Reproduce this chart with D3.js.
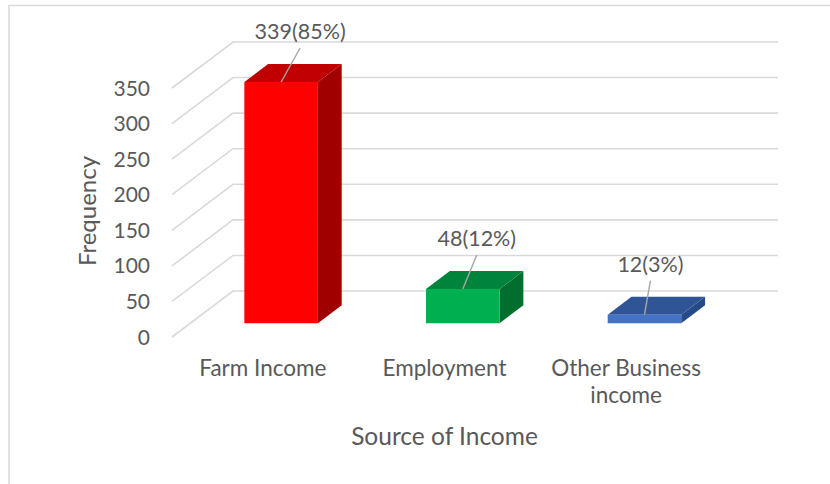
<!DOCTYPE html>
<html>
<head>
<meta charset="utf-8">
<script src="https://cdn.jsdelivr.net/npm/d3@7"></script>
<style>
  html, body { margin: 0; padding: 0; background: #fff; }
  svg { display: block; }
  text { font-family: Lato, "Open Sans", sans-serif; fill: #595959; }
</style>
</head>
<body>
<svg id="chart" width="830" height="484"></svg>
<script>
// Source of income of respondents
const categories = ["Farm Income", "Employment", "Other Business income"];
const frequencies = [339, 48, 12];
const yTicks = [0, 50, 100, 150, 200, 250, 300, 350];
const barColors = [
  { front: "#ff0000", top: "#c00000", side: "#a00000" },
  { front: "#00b050", top: "#00843c", side: "#006e2e" },
  { front: "#4472c4", top: "#2f5597", side: "#264a86" }
];
const xTitle = "Source of Income";
const yTitle = "Frequency";

const svg = d3.select("#chart");
const W = 830, H = 484;

// chart frame
svg.append("rect")
  .attr("x", 9).attr("y", 5.5)
  .attr("width", W + 20).attr("height", H + 20)
  .attr("fill", "#fff")
  .attr("stroke", "#d9d9d9").attr("stroke-width", 1.5);

// oblique 3-D projection: depth 0 = front of floor, 1 = back wall
const DX = 61, DY = -46;
const x = d3.scaleBand().domain(categories).range([172, 717]).padding(0);
const y = d3.scaleLinear().domain([0, 350]).range([337, 88]);
const proj = (px, v, d) => [px + d * DX, y(v) + d * DY];

// walls: back-wall gridlines and side-wall diagonals
const grid = svg.append("g")
  .attr("stroke", "#d9d9d9").attr("stroke-width", 1.6).attr("fill", "none");
yTicks.forEach(v => {
  const a = proj(x.range()[0], v, 0);
  const b = proj(x.range()[0], v, 1);
  const c = proj(x.range()[1], v, 1);
  grid.append("path").attr("d", d3.line()([a, b, c]));
});

// value axis labels at the front edge
svg.append("g").selectAll("text").data(yTicks).join("text")
  .attr("x", 150)
  .attr("y", d => y(d))
  .attr("dy", "0.36em")
  .attr("text-anchor", "end")
  .attr("font-size", 21)
  .text(d => d);

// bars as boxes
const barFrac = 0.405, d0 = 0.30, d1 = 0.69;
const total = d3.sum(frequencies);
const bars = categories.map((c, i) => {
  const w = x.bandwidth() * barFrac;
  const xl = x(c) + (x.bandwidth() - w) / 2;
  const xr = xl + w;
  const v = frequencies[i];
  return { c, i, v, xl, xr };
});

const pts = arr => arr.map(p => p.join(",")).join(" ");
const gBars = svg.append("g");
bars.forEach(b => {
  const col = barColors[b.i];
  const g = gBars.append("g");
  // right side face
  g.append("polygon").attr("fill", col.side).attr("points", pts([
    proj(b.xr, 0, d0), proj(b.xr, b.v, d0), proj(b.xr, b.v, d1), proj(b.xr, 0, d1)
  ]));
  // top face
  g.append("polygon").attr("fill", col.top).attr("points", pts([
    proj(b.xl, b.v, d0), proj(b.xr, b.v, d0), proj(b.xr, b.v, d1), proj(b.xl, b.v, d1)
  ]));
  // front face
  g.append("polygon").attr("fill", col.front).attr("points", pts([
    proj(b.xl, 0, d0), proj(b.xr, 0, d0), proj(b.xr, b.v, d0), proj(b.xl, b.v, d0)
  ]));
});

// data labels with leader lines
const labelDx = [19, 14, 6];
const gLab = svg.append("g");
bars.forEach(b => {
  const [tx, ty] = proj((b.xl + b.xr) / 2, b.v, d0);
  const lx = tx + labelDx[b.i];
  const ly = ty - 43;
  gLab.append("line")
    .attr("x1", lx).attr("y1", ly + 9)
    .attr("x2", tx).attr("y2", ty)
    .attr("stroke", "#a6a6a6").attr("stroke-width", 1.4);
  gLab.append("text")
    .attr("x", lx).attr("y", ly)
    .attr("text-anchor", "middle")
    .attr("font-size", 21.5)
    .text(`${b.v}(${Math.round(b.v / total * 100)}%)`);
});

// category labels, wrapped to the band width
const gCat = svg.append("g");
categories.forEach(c => {
  const cx = x(c) + x.bandwidth() / 2;
  const t = gCat.append("text")
    .attr("x", cx).attr("y", 375.5)
    .attr("text-anchor", "middle")
    .attr("font-size", 22.5);
  const words = c.split(" ");
  let line = [];
  let tsp = t.append("tspan").attr("x", cx).attr("dy", 0);
  words.forEach(wd => {
    line.push(wd);
    tsp.text(line.join(" "));
    if (tsp.node().getComputedTextLength() > 170 && line.length > 1) {
      line.pop();
      tsp.text(line.join(" "));
      line = [wd];
      tsp = t.append("tspan").attr("x", cx).attr("dy", 27).text(wd);
    }
  });
});

// axis titles
svg.append("text")
  .attr("x", 444.5).attr("y", 445)
  .attr("text-anchor", "middle")
  .attr("font-size", 24.5)
  .text(xTitle);

svg.append("text")
  .attr("transform", "translate(96,211) rotate(-90)")
  .attr("text-anchor", "middle")
  .attr("font-size", 24)
  .text(yTitle);
</script>
</body>
</html>
